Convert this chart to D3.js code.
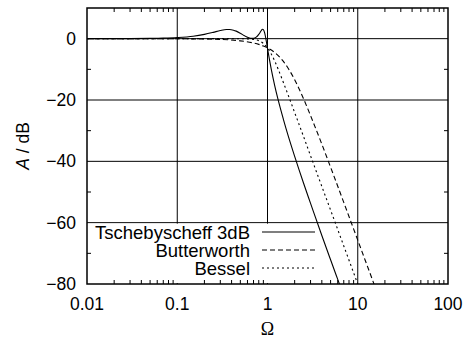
<!DOCTYPE html>
<html>
<head>
<meta charset="utf-8">
<script src="https://cdn.jsdelivr.net/npm/d3@7"></script>
<style>
  body { margin: 0; background: #fff; }
  text { font-family: "Liberation Sans", Arial, sans-serif; fill: #000; }
</style>
</head>
<body>
<div id="chart-area"></div>
<script>
// ---- data ----
const xTicks = [0.01, 0.1, 1, 10, 100];
const xTickLabels = ['0.01', '0.1', '1', '10', '100'];
const yTicks = [-80, -60, -40, -20, 0];
const yTickLabels = ['\u221280', '\u221260', '\u221240', '\u221220', '0'];
const yMinorTicks = [-70, -50, -30, -10];
const seriesNames = ['Tschebyscheff 3dB', 'Butterworth', 'Bessel'];

// Tschebyscheff 3dB (solid)
const chebOmega = [0.01, 0.02, 0.03, 0.05, 0.07, 0.1, 0.15, 0.2, 0.25, 0.3, 0.35, 0.38, 0.42, 0.45, 0.5,
  0.55, 0.6, 0.65, 0.7, 0.75, 0.8, 0.83, 0.85, 0.88, 0.9, 0.93, 0.95, 0.97, 1, 1.05, 1.1, 1.2, 1.3,
  1.5, 1.7, 2, 2.5, 3, 4, 5, 6, 7];
const chebDb = [0.0, 0.02, 0.03, 0.09, 0.18, 0.37, 0.8, 1.41, 2.06, 2.64, 2.98, 3.0, 2.77, 2.46, 1.76,
  1.04, 0.45, 0.1, 0.09, 0.49, 1.38, 2.1, 2.59, 3.06, 2.94, 1.86, 0.62, -0.84, -3.14, -6.77, -9.95, -15.2, -19.5,
  -26.3, -31.8, -38.4, -47.0, -53.7, -64.2, -72.1, -78.5, -83.9];

// Butterworth (dashed)
const buttOmega = [0.01, 0.1, 0.2, 0.3, 0.5, 0.7, 0.8, 0.9, 1, 1.2, 1.5, 1.7, 2, 2.5, 3, 4, 5, 7, 10, 12, 15, 16];
const buttDb = [0, -0.03, -0.11, -0.25, -0.71, -1.41, -1.86, -2.4, -3.01, -4.51, -7.42, -9.72, -13.4,
  -19.5, -25.1, -34.4, -41.9, -53.4, -65.7, -72.0, -79.7, -82.0];

// Bessel (dotted)
const besselOmega = [0.01, 0.1, 0.3, 0.5, 0.6, 0.7, 0.8, 0.9, 1, 1.1, 1.2, 1.3, 1.5, 1.7, 2, 2.5, 3, 4, 5, 7, 10, 11];
const besselDb = [0, 0, 0, -0.02, -0.07, -0.24, -0.67, -1.56, -3.01, -4.97, -7.24, -9.62, -14.3,
  -18.5, -24.1, -31.8, -38.2, -48.2, -55.9, -67.6, -80.0, -83.3];

// ---- layout ----
const W = 465, H = 343;
const margin = { left: 87, right: 17, top: 8, bottom: 59 };
const width = W - margin.left - margin.right;
const height = H - margin.top - margin.bottom;
const fontSize = '17.5px';
const legendFont = '18.5px';

const svg = d3.select('#chart-area')
  .append('svg')
  .attr('width', W)
  .attr('height', H);

const g = svg.append('g')
  .attr('transform', 'translate(' + margin.left + ',' + margin.top + ')');

const x = d3.scaleLog().domain([0.01, 100]).range([0, width]);
const y = d3.scaleLinear().domain([-80, 10]).range([height, 0]);

// minor x ticks: 2..9 in every decade
const xMinor = [];
for (let k = -2; k < 2; k++) {
  for (let m = 2; m <= 9; m++) xMinor.push(m * Math.pow(10, k));
}

// grid
g.selectAll('.xgrid')
  .data(xTicks.slice(1, -1))
  .enter().append('line')
  .attr('x1', d => x(d)).attr('x2', d => x(d))
  .attr('y1', 0).attr('y2', height)
  .attr('stroke', '#000').attr('stroke-width', 1);

g.selectAll('.ygrid')
  .data(yTicks.slice(1))
  .enter().append('line')
  .attr('x1', 0).attr('x2', width)
  .attr('y1', d => y(d)).attr('y2', d => y(d))
  .attr('stroke', '#000').attr('stroke-width', 1);

// legend background hides the grid behind it
g.append('rect')
  .attr('x', 1).attr('y', y(-60) + 1)
  .attr('width', 230).attr('height', height - y(-60) - 2)
  .attr('fill', '#fff');

// curves
g.append('clipPath').attr('id', 'clip')
  .append('rect').attr('width', width).attr('height', height);

const line = d3.line()
  .x(d => x(d[0]))
  .y(d => y(d[1]))
  .curve(d3.curveMonotoneX);

const series = [
  { name: seriesNames[0], om: chebOmega, db: chebDb, dash: null },
  { name: seriesNames[1], om: buttOmega, db: buttDb, dash: '5,3' },
  { name: seriesNames[2], om: besselOmega, db: besselDb, dash: '2,3' }
];

series.forEach(s => {
  g.append('path')
    .datum(s.om.map((o, i) => [o, s.db[i]]))
    .attr('clip-path', 'url(#clip)')
    .attr('fill', 'none')
    .attr('stroke', '#000')
    .attr('stroke-width', 1.1)
    .attr('stroke-dasharray', s.dash)
    .attr('d', line);
});

// minor ticks on all four sides
const tickLen = 4;
xMinor.forEach(v => {
  g.append('line').attr('x1', x(v)).attr('x2', x(v))
    .attr('y1', height).attr('y2', height - tickLen).attr('stroke', '#000');
  g.append('line').attr('x1', x(v)).attr('x2', x(v))
    .attr('y1', 0).attr('y2', tickLen).attr('stroke', '#000');
});
yMinorTicks.forEach(v => {
  g.append('line').attr('x1', 0).attr('x2', tickLen)
    .attr('y1', y(v)).attr('y2', y(v)).attr('stroke', '#000');
  g.append('line').attr('x1', width).attr('x2', width - tickLen)
    .attr('y1', y(v)).attr('y2', y(v)).attr('stroke', '#000');
});

// frame
g.append('rect')
  .attr('width', width).attr('height', height)
  .attr('fill', 'none').attr('stroke', '#000').attr('stroke-width', 1.5);

// tick labels
g.selectAll('.xlab')
  .data(xTicks)
  .enter().append('text')
  .attr('x', d => x(d))
  .attr('y', height + 26)
  .attr('text-anchor', 'middle')
  .attr('font-size', fontSize)
  .text((d, i) => xTickLabels[i]);

g.selectAll('.ylab')
  .data(yTicks)
  .enter().append('text')
  .attr('x', -11)
  .attr('y', d => y(d))
  .attr('dy', '0.35em')
  .attr('text-anchor', 'end')
  .attr('font-size', fontSize)
  .text((d, i) => yTickLabels[i]);

// axis titles
g.append('text')
  .attr('x', x(1))
  .attr('y', height + 51)
  .attr('text-anchor', 'middle')
  .attr('font-size', '18px')
  .style('font-family', '"Liberation Serif", "Times New Roman", serif')
  .text('\u03A9');

const yTitle = svg.append('text')
  .attr('transform', 'translate(29,' + (margin.top + y(-35)) + ') rotate(-90)')
  .attr('text-anchor', 'middle')
  .attr('font-size', fontSize);
yTitle.append('tspan').style('font-style', 'italic').text('A');
yTitle.append('tspan').text(' / dB');

// legend
const legY = [232, 250, 268];
series.forEach((s, i) => {
  g.append('text')
    .attr('x', 250 - margin.left)
    .attr('y', legY[i] - margin.top)
    .attr('dy', '0.36em')
    .attr('text-anchor', 'end')
    .attr('font-size', legendFont)
    .text(s.name);
  g.append('line')
    .attr('x1', 262 - margin.left).attr('x2', 315 - margin.left)
    .attr('y1', legY[i] - margin.top).attr('y2', legY[i] - margin.top)
    .attr('stroke', '#000').attr('stroke-width', 1.1)
    .attr('stroke-dasharray', s.dash);
});
</script>
</body>
</html>
